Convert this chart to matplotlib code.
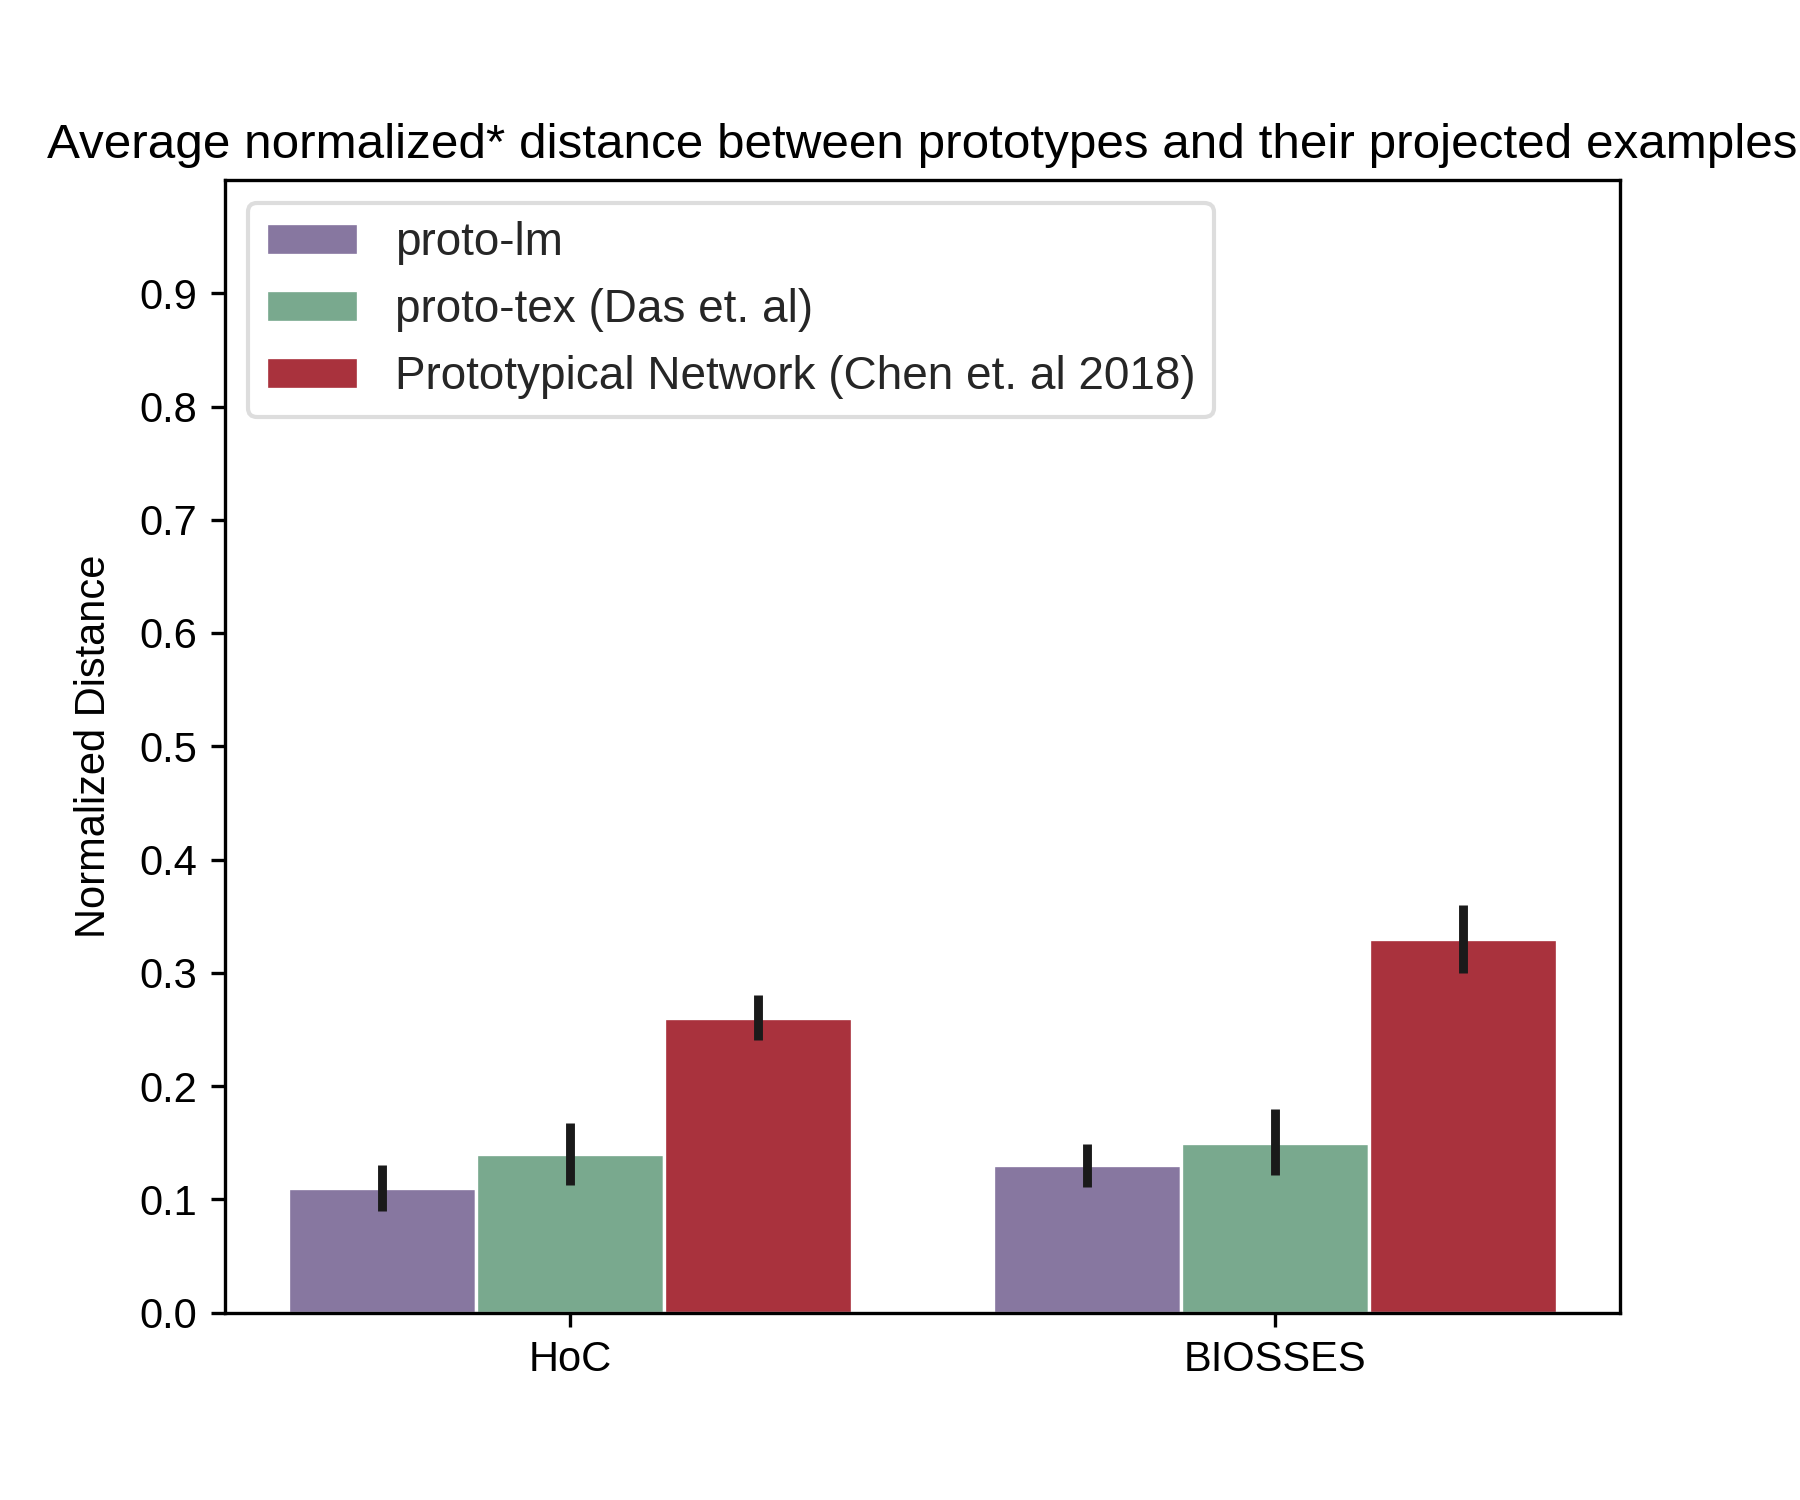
import matplotlib
matplotlib.use("Agg")
import matplotlib.pyplot as plt
import numpy as np

plt.rcParams['font.family'] = ['Liberation Sans', 'DejaVu Sans']

categories = ["HoC", "BIOSSES"]
series = ["proto-lm", "proto-tex (Das et. al)", "Prototypical Network (Chen et. al 2018)"]
means = {
    "proto-lm": [0.11, 0.13],
    "proto-tex (Das et. al)": [0.14, 0.15],
    "Prototypical Network (Chen et. al 2018)": [0.26, 0.33],
}
err_low = {
    "proto-lm": [0.09, 0.111],
    "proto-tex (Das et. al)": [0.113, 0.121],
    "Prototypical Network (Chen et. al 2018)": [0.241, 0.30],
}
err_high = {
    "proto-lm": [0.130, 0.149],
    "proto-tex (Das et. al)": [0.167, 0.180],
    "Prototypical Network (Chen et. al 2018)": [0.280, 0.360],
}
colors = ["#8777a0", "#79a98e", "#a9323d"]
yticks = [0.0, 0.1, 0.2, 0.3, 0.4, 0.5, 0.6, 0.7, 0.8, 0.9]

fig, ax = plt.subplots(figsize=(9, 7.5), dpi=200)
fig.subplots_adjust(left=0.125, right=0.9, top=0.88, bottom=0.125)
x = np.arange(len(categories))
n = len(series)
w = 0.8 / n
for i, s in enumerate(series):
    pos = x - 0.4 + w * (i + 0.5)
    m = np.array(means[s])
    lo = m - np.array(err_low[s])
    hi = np.array(err_high[s]) - m
    ax.bar(pos, m, width=w, color=colors[i], edgecolor="white", linewidth=1.2, label=s)
    ax.errorbar(pos, m, yerr=[lo, hi], fmt="none", ecolor="#1a1a1a", elinewidth=3.2, capsize=0)

ax.set_xticks(x)
ax.set_xticklabels(categories, fontsize=15)
ax.set_yticks(yticks)
ax.set_yticklabels([f"{t:.1f}" for t in yticks], fontsize=15)
ax.set_ylim(0, 1.0)
ax.set_xlim(-0.49, 1.49)
ax.set_ylabel("Normalized Distance", fontsize=15, labelpad=9)
ax.set_title("Average normalized* distance between prototypes and their projected examples",
             fontsize=17.8, pad=8)
leg = ax.legend(loc="upper left", fontsize=16.5, frameon=True, fancybox=True,
                edgecolor="#d5d5d5", handlelength=2.0, labelcolor="#262626")
leg.get_frame().set_linewidth(1.5)
for sp in ax.spines.values():
    sp.set_linewidth(1.2)
ax.tick_params(width=1.2, length=5, pad=5)

fig.savefig("out.png", dpi=200)
